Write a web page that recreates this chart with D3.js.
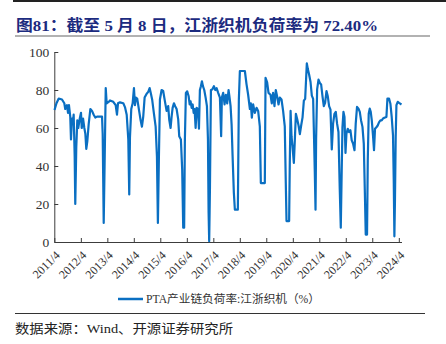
<!DOCTYPE html>
<html><head><meta charset="utf-8">
<script src="https://cdn.jsdelivr.net/npm/d3@7"></script>
<style>body{margin:0;background:#fff}svg{display:block}</style>
</head><body>
<svg id="c" width="446" height="344"></svg>
<script>
const titleText = "图81：截至 5 月 8 日，江浙织机负荷率为 72.40%";
const seriesName = "PTA产业链负荷率:江浙织机（%）";
const sourceText = "数据来源：Wind、开源证券研究所";
const yTicks = [0, 20, 40, 60, 80, 100];
const xTickLabels = ["2011/4","2012/4","2013/4","2014/4","2015/4","2016/4","2017/4","2018/4","2019/4","2020/4","2021/4","2022/4","2023/4","2024/4"];

const dates = [
"2011-04-04","2011-05-01","2011-06-01","2011-07-16","2011-08-17","2011-08-30","2011-09-23","2011-10-07","2011-10-20","2011-11-07","2011-11-17","2011-12-01","2011-12-10","2011-12-24",
"2012-01-07","2012-01-15","2012-01-29","2012-02-12","2012-02-25","2012-03-17","2012-04-03","2012-04-13","2012-05-01","2012-05-19","2012-06-02","2012-06-15","2012-06-29","2012-07-18","2012-08-10","2012-09-02","2012-09-25","2012-10-17","2012-11-10","2012-12-21",
"2013-01-18","2013-01-27","2013-02-10","2013-02-24","2013-03-10","2013-03-23","2013-04-28","2013-05-08","2013-06-22","2013-07-25","2013-08-12","2013-08-26","2013-09-22","2013-11-07","2013-11-30","2013-12-24",
"2014-01-15","2014-01-28","2014-02-07","2014-02-25","2014-03-16","2014-04-03","2014-04-17","2014-04-30","2014-05-18","2014-06-15","2014-07-04","2014-07-22","2014-08-09","2014-08-28","2014-09-25","2014-10-17","2014-11-05","2014-11-23","2014-12-11",
"2015-01-03","2015-01-27","2015-02-14","2015-02-27","2015-03-13","2015-03-27","2015-04-19","2015-05-11","2015-06-04","2015-06-27","2015-07-19","2015-08-02","2015-08-21","2015-09-04","2015-09-18","2015-10-06","2015-10-23","2015-11-12","2015-12-04","2015-12-18",
"2016-01-10","2016-01-28","2016-02-11","2016-02-24","2016-03-05","2016-03-19","2016-04-06","2016-04-26","2016-05-10","2016-05-23","2016-06-06","2016-06-20","2016-07-04","2016-07-17","2016-07-31","2016-08-14","2016-09-01","2016-09-15","2016-09-28","2016-10-12","2016-10-26","2016-11-09","2016-11-27","2016-12-16",
"2017-01-03","2017-01-17","2017-01-26","2017-02-03","2017-02-13","2017-02-27","2017-03-17","2017-04-09","2017-04-27","2017-05-16","2017-06-07","2017-07-01","2017-07-18","2017-07-28","2017-08-15","2017-09-03","2017-09-21","2017-10-09","2017-10-28","2017-11-11","2017-11-25","2017-12-09","2017-12-22",
"2018-01-09","2018-01-23","2018-03-05","2018-03-19","2018-04-02","2018-06-10","2018-07-03","2018-07-25","2018-08-18","2018-08-31","2018-09-14","2018-10-02","2018-10-25","2018-11-18","2018-12-10",
"2019-01-02","2019-01-16","2019-03-12","2019-03-22","2019-04-13","2019-05-02","2019-05-29","2019-06-16","2019-07-04","2019-07-23","2019-08-10","2019-08-28","2019-09-17","2019-10-04","2019-10-28","2019-11-19","2019-12-12","2019-12-26",
"2020-01-05","2020-02-10","2020-02-19","2020-03-01","2020-03-14","2020-03-27","2020-04-15","2020-04-29","2020-05-13","2020-05-30","2020-06-19","2020-07-07","2020-07-25","2020-08-13","2020-08-31","2020-09-18","2020-10-11","2020-10-25","2020-11-12","2020-12-01","2020-12-19",
"2021-01-06","2021-01-15","2021-01-29","2021-02-08","2021-02-16","2021-03-02","2021-03-21","2021-04-08","2021-04-26","2021-05-15","2021-06-02","2021-06-20","2021-07-09","2021-07-27","2021-08-14","2021-09-02","2021-09-20","2021-10-08","2021-10-27","2021-11-14","2021-12-02","2021-12-21",
"2022-01-08","2022-01-22","2022-02-01","2022-02-14","2022-02-28","2022-03-14","2022-03-28","2022-04-10","2022-04-28","2022-05-16","2022-06-04","2022-06-22","2022-07-10","2022-07-30","2022-08-16","2022-09-03","2022-09-23","2022-10-11","2022-10-28","2022-11-17","2022-12-05","2022-12-22",
"2023-01-01","2023-01-19","2023-01-29","2023-02-11","2023-02-25","2023-03-11","2023-03-25","2023-04-11","2023-04-25","2023-05-09","2023-05-28","2023-06-15","2023-07-03","2023-07-22","2023-08-09","2023-08-27","2023-09-15","2023-10-13","2023-10-27","2023-11-18","2023-12-07","2023-12-25",
"2024-01-12","2024-01-22","2024-01-31","2024-02-08","2024-02-18","2024-02-28","2024-03-17","2024-04-04","2024-05-08"
];

const values = [
69.5,73,75.5,75,73,70,72,68,72,66,54,65,62,67,
45,20,50,64,60,65,68,60,65,60,57,49,53,62,70,69,67,65.5,66,66,
66,57,10,45,81,73,74,74.5,73.8,72,67,73,73.5,73,71,67,
54,25,55,70,73,81,72,76,75.5,68.6,64,60.7,66,76,78,79,81,78,74.7,
67.7,60.7,45,10,45,75,80,79.5,74,69,71.5,64.5,60,66,70.6,73,71.5,70,64.5,55.7,
54,38,7.5,7.5,54,78.5,79.3,76.7,72.4,74,70.6,72.4,68,70,60,70.6,70,59.6,80,82,84.6,82,80,76,
71.5,54,15.5,0.4,27,80,80.3,82,80,81,78.5,76,55.7,76,78.5,72.4,77.5,73,80,76,71.5,61.8,46,
26,17,17,75,90,90,83,77.5,70,73,65.5,72.4,68,70.6,69,
60.8,31,31,86.4,84,78.5,77.5,73,78.5,71.5,80,76.7,72.4,76,75,69,60.8,31,
11,11,41,69,55.7,50.4,41.6,54,67.5,64.9,61.3,56.8,61.3,65.6,74.4,75.3,94,91,88,84.2,77,
75.3,60.4,36.4,17,54.4,80.3,85.5,83.7,82.9,76.7,71.5,73.2,79.4,76.7,71.5,69.7,48.7,62.3,67.5,68.5,62.3,57.9,
27.6,7.5,31,60.4,68.5,65.8,46.9,57,59.6,57.9,58.8,53.5,51.8,48.3,62.3,71.1,70.2,68.5,64.1,60.6,51.8,22.4,
3.9,3.9,42.8,67.5,70.2,68.5,64.1,56.1,48.3,59.6,60.4,61.3,63,64,64,65,65.4,65.8,75.5,75.5,72.8,65.8,
56.1,32.9,3,22.4,55.2,72,73.8,73.2,72.4
];

const svg = d3.select("#c");
const parse = d3.timeParse("%Y-%m-%d");
const parseTick = d3.timeParse("%Y/%m");
const data = dates.map((d, i) => ({date: parse(d), value: values[i]}));
const xTickDates = xTickLabels.map(parseTick);

const serif = "'Liberation Serif','Times New Roman','Noto Sans CJK SC',serif";
const cjk = "'Liberation Serif','Noto Sans CJK SC',serif";
const blue = "#0a6fc2";
const axisCol = "#3c3c3c";

const x = d3.scaleTime().domain([xTickDates[0], data[data.length-1].date]).range([54.3, 401.5]);
const y = d3.scaleLinear().domain([0, 100]).range([242, 52]);

// top rule
svg.append("line").attr("x1", 13).attr("x2", 446).attr("y1", 1).attr("y2", 1)
  .attr("stroke", "#222").attr("stroke-width", 2);
// title
svg.append("text").attr("x", 16).attr("y", 31)
  .attr("font-family", cjk).attr("font-weight", "bold").attr("font-size", 15.5)
  .attr("fill", "#1c2b7f").attr("textLength", 362).attr("lengthAdjust", "spacingAndGlyphs")
  .text(titleText);
svg.append("line").attr("x1", 15).attr("x2", 430).attr("y1", 36).attr("y2", 36)
  .attr("stroke", "#999").attr("stroke-width", 1.6);

// y axis
const gy = svg.append("g").attr("transform", "translate(54.3,0)")
  .call(d3.axisLeft(y).tickValues(yTicks).tickSizeInner(-4).tickSizeOuter(0).tickPadding(5));
gy.select(".domain").attr("stroke", axisCol);
gy.selectAll(".tick line").attr("stroke", axisCol);
gy.selectAll("text").attr("font-family", serif).attr("font-size", 13.5).attr("fill", "#333");

// x axis
const gx = svg.append("g").attr("transform", "translate(0,242)")
  .call(d3.axisBottom(x).tickValues(xTickDates).tickFormat((d, i) => xTickLabels[i])
    .tickSizeInner(-4).tickSizeOuter(0));
gx.select(".domain").attr("stroke", axisCol);
gx.selectAll(".tick line").attr("stroke", axisCol);
gx.selectAll("text").attr("font-family", serif).attr("font-size", 12).attr("fill", "#333")
  .attr("x", 0).attr("y", 0).attr("dy", "0.35em").attr("text-anchor", "end")
  .attr("transform", "translate(3,11) rotate(-45)");

// line
svg.append("path").datum(data)
  .attr("fill", "none").attr("stroke", blue).attr("stroke-width", 2.2).attr("stroke-linejoin", "round")
  .attr("d", d3.line().x(d => x(d.date)).y(d => y(d.value)));

// legend
svg.append("line").attr("x1", 118).attr("x2", 143).attr("y1", 299).attr("y2", 299)
  .attr("stroke", blue).attr("stroke-width", 2.5);
svg.append("text").attr("x", 146).attr("y", 303)
  .attr("font-family", cjk).attr("font-size", 11.5).attr("fill", "#333")
  .attr("textLength", 174).attr("lengthAdjust", "spacingAndGlyphs")
  .text(seriesName);

// source
svg.append("line").attr("x1", 15).attr("x2", 425).attr("y1", 313.5).attr("y2", 313.5)
  .attr("stroke", "#333").attr("stroke-width", 1);
svg.append("text").attr("x", 15).attr("y", 333)
  .attr("font-family", cjk).attr("font-size", 13).attr("fill", "#222")
  .attr("textLength", 218).attr("lengthAdjust", "spacingAndGlyphs")
  .text(sourceText);
</script>
</body></html>
